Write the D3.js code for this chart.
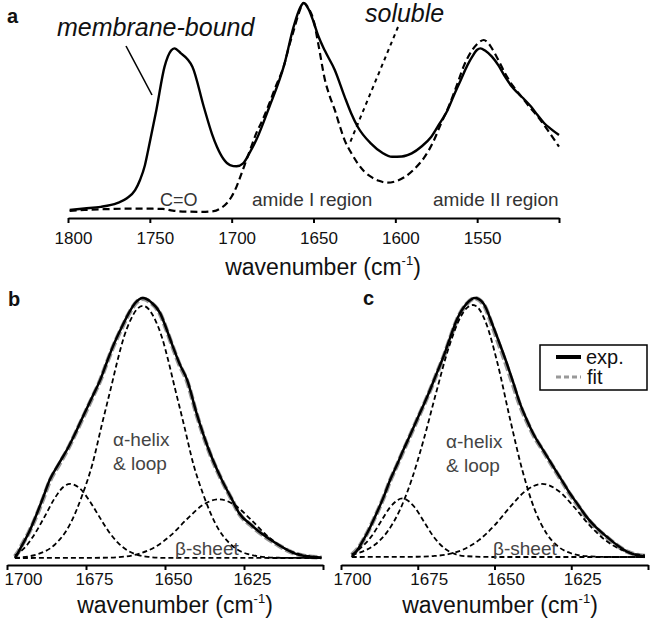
<!DOCTYPE html>
<html>
<head>
<meta charset="utf-8">
<script src="https://cdn.jsdelivr.net/npm/d3@7"></script>
<style>
  body { margin: 0; background: #fff; }
  svg  { display: block; }
  text { font-family: "Liberation Sans", Arial, Helvetica, sans-serif; }
</style>
</head>
<body>
<svg id="chart" width="650" height="620"></svg>
<script>
// ---- data: [wavenumber (cm-1), normalised absorbance] ----

// panel a
const membraneBound = [
  [1799,0.005],[1790,0.012],[1780,0.02],[1770,0.038],[1764,0.061],[1759,0.10],[1756,0.149],[1753,0.22],
  [1751,0.293],[1746,0.486],[1741,0.694],[1737,0.772],[1735,0.782],[1731,0.758],[1727,0.73],[1724,0.694],
  [1717,0.50],[1712,0.37],[1709,0.309],[1705,0.25],[1701,0.221],[1697,0.215],[1693,0.229],[1689,0.28],
  [1685,0.341],[1677,0.50],[1668,0.70],[1662,0.89],[1658,0.98],[1656,1.0],[1653,0.97],[1650,0.91],
  [1647,0.84],[1643,0.77],[1637,0.678],[1631,0.55],[1627,0.47],[1623,0.405],[1615,0.325],[1608,0.28],
  [1602,0.261],[1596,0.262],[1590,0.277],[1584,0.31],[1578,0.357],[1573,0.42],[1568,0.486],[1564,0.56],
  [1560,0.63],[1556,0.70],[1553,0.742],[1550,0.775],[1548,0.782],[1545,0.77],[1541,0.742],[1537,0.70],
  [1533,0.646],[1529,0.60],[1525,0.566],[1521,0.535],[1517,0.501],[1513,0.46],[1509,0.422],[1505,0.395],
  [1500,0.365]
]
const soluble = [
  [1799,0],[1790,0.005],[1780,0.008],[1765,0.011],[1750,0.011],[1742,0.01],[1736,0.002],[1728,-0.003],
  [1718,-0.004],[1711,-0.001],[1707,0.012],[1703,0.037],[1700,0.07],[1697,0.117],[1694,0.18],[1691,0.245],
  [1688,0.31],[1685,0.373],[1681,0.44],[1677,0.517],[1673,0.60],[1668,0.70],[1665,0.79],[1662,0.87],
  [1659,0.95],[1656,1.0],[1653,0.975],[1650,0.918],[1647,0.80],[1643,0.63],[1640,0.55],[1637,0.486],
  [1634,0.41],[1631,0.341],[1627,0.28],[1623,0.229],[1619,0.19],[1615,0.165],[1610,0.145],[1605,0.136],
  [1600,0.142],[1594,0.165],[1588,0.205],[1582,0.261],[1577,0.33],[1572,0.422],[1567,0.51],[1562,0.614],
  [1558,0.70],[1553,0.774],[1549,0.81],[1546,0.822],[1543,0.805],[1541,0.782],[1537,0.725],[1533,0.662],
  [1528,0.60],[1523,0.55],[1518,0.50],[1513,0.454],[1507,0.39],[1500,0.309]
]

// panel b
const bExp = [
  [1697.5,0.0],[1696.5,0.02],[1695.5,0.043],[1693,0.10],[1690.5,0.172],[1688.5,0.235],[1686.5,0.30],
  [1683.5,0.365],[1680.5,0.428],[1678,0.49],[1675.5,0.556],[1673,0.62],[1670.5,0.685],[1668.5,0.75],
  [1666.5,0.813],[1664,0.88],[1661.5,0.941],[1659.5,0.98],[1657,1.0],[1654.5,0.985],[1651.5,0.941],
  [1649.5,0.88],[1647.5,0.813],[1645.5,0.75],[1643,0.685],[1640,0.556],[1636.5,0.428],[1632,0.30],
  [1629,0.23],[1626.5,0.172],[1622.5,0.125],[1619,0.09],[1614,0.05],[1609.5,0.02],[1605,0.006],[1600.5,0.002]
]
const bFit = [
  [1697.5,0.005],[1696.5,0.022],[1695.5,0.045],[1693,0.10],[1690.5,0.168],[1688.5,0.23],[1686.5,0.295],
  [1683.5,0.36],[1680.5,0.425],[1678,0.488],[1675.5,0.552],[1673,0.617],[1670.5,0.683],[1668.5,0.748],
  [1666.5,0.81],[1664,0.877],[1661.5,0.938],[1659.5,0.977],[1657,0.997],[1654.5,0.982],[1651.5,0.938],
  [1649.5,0.877],[1647.5,0.81],[1645.5,0.746],[1643,0.68],[1640,0.553],[1636.5,0.425],[1632,0.298],
  [1629,0.228],[1626.5,0.17],[1622.5,0.123],[1619,0.088],[1614,0.048],[1609.5,0.02],[1605,0.006],[1600.5,0.002]
]
const bHelix = [
  [1697.5,0],[1690,0.016],[1685,0.05],[1680,0.131],[1676,0.248],[1673,0.36],[1670,0.512],[1667,0.66],
  [1665,0.761],[1663,0.85],[1661,0.913],[1659,0.955],[1657,0.97],[1655,0.955],[1653,0.913],[1651,0.85],
  [1649,0.761],[1647,0.66],[1644,0.512],[1641,0.36],[1638,0.248],[1634,0.131],[1629,0.05],[1624,0.016],
  [1615,0.001],[1600.5,0]
]
const bTurn = [
  [1697.5,0.01],[1694,0.045],[1691,0.097],[1688,0.161],[1685,0.228],[1682,0.275],[1680,0.285],[1677,0.268],
  [1674,0.222],[1671,0.163],[1668,0.105],[1665,0.06],[1662,0.03],[1659,0.013],[1655,0.004],[1650,0.0005],
  [1600.5,0]
]
const bSheet = [
  [1697.5,0],[1670,0.001],[1665,0.003],[1658,0.017],[1653,0.043],[1648,0.089],[1643,0.15],[1638,0.204],
  [1633,0.226],[1628,0.204],[1623,0.15],[1618,0.089],[1613,0.043],[1608,0.017],[1603,0.005],[1600.5,0.002]
]

// panel c
const cExp = [
  [1696.5,0.0],[1694.5,0.03],[1692.7,0.066],[1690.5,0.115],[1688.4,0.169],[1686,0.235],[1684,0.297],
  [1681.8,0.355],[1679.7,0.413],[1677.5,0.47],[1675.3,0.529],[1673,0.59],[1671,0.645],[1668.8,0.71],
  [1666.6,0.774],[1664.5,0.845],[1662.3,0.915],[1659,0.979],[1656.4,1.0],[1653.6,0.979],[1650.4,0.889],
  [1648.2,0.82],[1646,0.748],[1643.8,0.67],[1641.7,0.593],[1639.5,0.53],[1637.4,0.477],[1634,0.41],
  [1630.8,0.348],[1628,0.295],[1625.4,0.245],[1622.7,0.2],[1620,0.155],[1617,0.115],[1613.4,0.078],
  [1610,0.045],[1606.9,0.021],[1603.5,0.007],[1601,0.002]
]
const cFit = [
  [1696.5,0.008],[1694.5,0.032],[1692.7,0.066],[1690.5,0.115],[1688.4,0.168],[1686,0.233],[1684,0.295],
  [1681.8,0.353],[1679.7,0.41],[1677.5,0.468],[1675.3,0.527],[1673,0.588],[1671,0.643],[1668.8,0.708],
  [1666.6,0.772],[1664.5,0.843],[1662.3,0.913],[1659,0.978],[1656.4,0.999],[1653.6,0.976],[1650.4,0.882],
  [1648.2,0.81],[1646,0.737],[1643.8,0.66],[1641.7,0.586],[1639.5,0.525],[1637.4,0.473],[1634,0.407],
  [1630.8,0.345],[1628,0.292],[1625.4,0.242],[1622.7,0.197],[1620,0.152],[1617,0.113],[1613.4,0.076],
  [1610,0.044],[1606.9,0.021],[1603.5,0.008],[1601,0.004]
]
const cHelix = [
  [1696.5,0.009],[1693,0.021],[1689,0.047],[1685,0.096],[1681,0.177],[1677,0.298],[1673,0.456],
  [1669,0.635],[1665,0.805],[1661,0.928],[1659,0.962],[1657,0.973],[1655,0.957],[1653,0.911],[1649,0.747],
  [1645,0.536],[1641,0.338],[1637,0.186],[1633,0.09],[1629,0.038],[1625,0.014],[1620,0.003],[1612,0],[1601,0]
]
const cTurn = [
  [1696.5,0.01],[1694,0.031],[1690,0.081],[1687,0.137],[1684,0.192],[1680,0.226],[1676,0.192],[1673,0.137],
  [1670,0.081],[1666,0.031],[1663,0.012],[1659,0.003],[1650,0],[1601,0]
]
const cSheet = [
  [1696.5,0],[1675,0.001],[1670,0.0035],[1665,0.011],[1660,0.03],[1655,0.066],[1650,0.122],[1645,0.192],
  [1640,0.254],[1634.5,0.282],[1629,0.254],[1624,0.192],[1619,0.122],[1614,0.066],[1609,0.03],[1604,0.011],
  [1601,0.006]
]

const ticksA  = [1800, 1750, 1700, 1650, 1600, 1550, 1500]
const ticksBC = [1700, 1675, 1650, 1625, 1600]

// ---- drawing ----

const svg = d3.select('#chart')

function drawAxis(xScale, yPos, ticks, labelDx, labelY)
{
  const axis = d3.axisBottom(xScale)
    .tickValues(ticks)
    .tickSize(5)
    .tickSizeOuter(0)
    .tickFormat((d, i) => i === ticks.length - 1 ? '' : d)

  const g = svg.append('g')
    .attr('transform', `translate(0,${yPos})`)
    .call(axis)

  g.select('.domain').attr('stroke', '#000').attr('stroke-width', 2)
  g.selectAll('.tick line').attr('stroke', '#000').attr('stroke-width', 2)
  g.selectAll('.tick text')
    .attr('font-size', 17)
    .attr('font-family', '"Liberation Sans", Arial, sans-serif')
    .attr('fill', '#111')
    .attr('y', labelY)
    .attr('dx', labelDx)
}

function drawTitle(x, y)
{
  const t = svg.append('text')
    .attr('x', x)
    .attr('y', y)
    .attr('text-anchor', 'middle')
    .attr('font-size', 23)
    .attr('fill', '#111')
  t.append('tspan').text('wavenumber (cm')
  t.append('tspan').attr('font-size', 13).attr('dy', -10).text('-1')
  t.append('tspan').attr('dy', 10).text(')')
}

function drawCurve(xScale, yScale, data, color, width, dash)
{
  const line = d3.line()
    .x(d => xScale(d[0]))
    .y(d => yScale(d[1]))
    .curve(d3.curveMonotoneX)

  svg.append('path')
    .datum(data)
    .attr('d', line)
    .attr('fill', 'none')
    .attr('stroke', color)
    .attr('stroke-width', width)
    .attr('stroke-dasharray', dash || null)
    .attr('stroke-linejoin', 'round')
}

function label(x, y, text, size, opts = {})
{
  svg.append('text')
    .attr('x', x)
    .attr('y', y)
    .attr('font-size', size)
    .attr('font-weight', opts.bold ? 'bold' : null)
    .attr('font-style', opts.italic ? 'italic' : null)
    .attr('fill', opts.color || '#111')
    .text(text)
}

// panel a
const xA = d3.scaleLinear().domain([1800, 1500]).range([68, 559])
const yA = d3.scaleLinear().domain([0, 1]).range([211, 3])

drawAxis(xA, 218, ticksA, 5, 14)
drawTitle(323, 275)
drawCurve(xA, yA, soluble, '#000', 2.2, '7,4')
drawCurve(xA, yA, membraneBound, '#000', 2.4)

label(7, 23, 'a', 20, { bold: true })
label(57, 36, 'membrane-bound', 25, { italic: true })
label(365, 22, 'soluble', 25, { italic: true })
svg.append('line').attr('x1', 126).attr('y1', 46).attr('x2', 152).attr('y2', 95)
  .attr('stroke', '#000').attr('stroke-width', 1.6)
svg.append('line').attr('x1', 398).attr('y1', 27).attr('x2', 349).attr('y2', 145)
  .attr('stroke', '#000').attr('stroke-width', 2).attr('stroke-dasharray', '4,4')
label(160, 206, 'C=O', 18, { color: '#333' })
label(252, 206, 'amide I region', 19, { color: '#333' })
label(433, 206, 'amide II region', 19, { color: '#333' })

// panels b and c
const yB = d3.scaleLinear().domain([0, 1]).range([558, 298])
const xB = d3.scaleLinear().domain([1700, 1600]).range([7, 323])
const yC = d3.scaleLinear().domain([0, 1]).range([557, 298])
const xC = d3.scaleLinear().domain([1700, 1600]).range([341, 648])

drawAxis(xB, 565, ticksBC, d => d === 1700 ? 16 : 8, 8)
drawAxis(xC, 565, ticksBC, 11, 8)
drawTitle(175, 613)
drawTitle(500, 613)

const panels = [
  { x: xB, y: yB, fit: bFit, exp: bExp, comps: [bHelix, bTurn, bSheet] },
  { x: xC, y: yC, fit: cFit, exp: cExp, comps: [cHelix, cTurn, cSheet] }
]
panels.forEach(p =>
{
  drawCurve(p.x, p.y, p.fit, '#999', 4.5, '9,3')
  drawCurve(p.x, p.y, p.exp, '#000', 2.5)
  p.comps.forEach(c => drawCurve(p.x, p.y, c, '#000', 1.8, '5,3'))
})

label(8, 306, 'b', 20, { bold: true })
label(363, 305, 'c', 20, { bold: true })

label(113, 446, 'α-helix', 19, { color: '#444' })
label(113, 470, '& loop', 19, { color: '#444' })
label(175, 555, 'β-sheet', 19, { color: '#444' })
label(446, 448, 'α-helix', 19, { color: '#444' })
label(446, 472, '& loop', 19, { color: '#444' })
label(493, 555, 'β-sheet', 19, { color: '#444' })

// legend
svg.append('rect').attr('x', 540).attr('y', 345).attr('width', 107).attr('height', 45)
  .attr('fill', '#fff').attr('stroke', '#000').attr('stroke-width', 1.5)
svg.append('line').attr('x1', 556).attr('y1', 357).attr('x2', 581).attr('y2', 357)
  .attr('stroke', '#000').attr('stroke-width', 4)
svg.append('line').attr('x1', 556).attr('y1', 377).attr('x2', 581).attr('y2', 377)
  .attr('stroke', '#999').attr('stroke-width', 3).attr('stroke-dasharray', '5,3')
label(586, 364, 'exp.', 20)
label(587, 384, 'fit', 20)
</script>
</body>
</html>
